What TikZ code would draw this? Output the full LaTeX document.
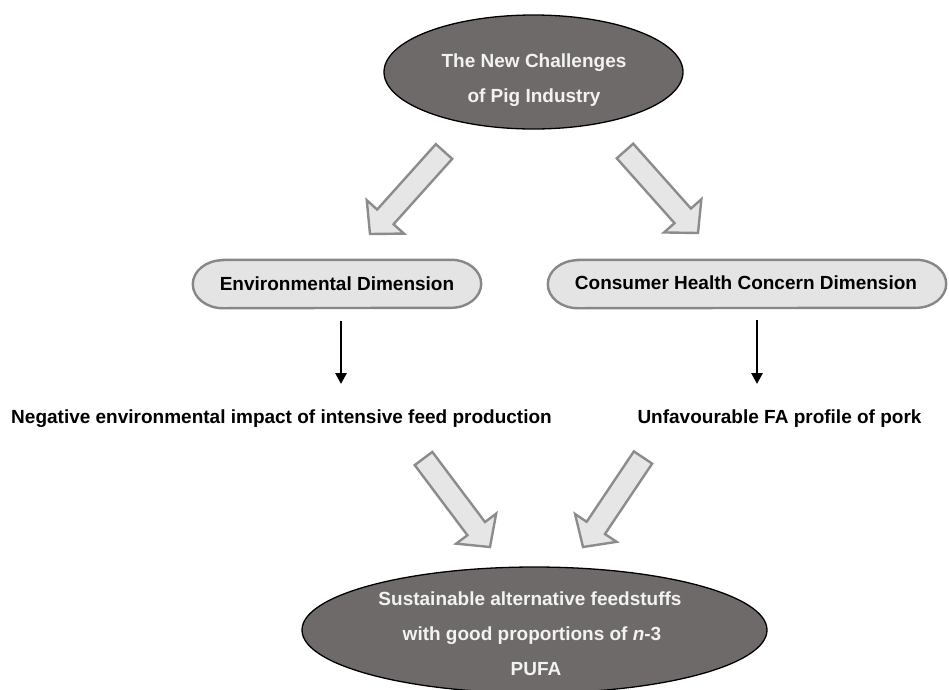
\documentclass[tikz,border=0pt]{standalone}
\usepackage{fontspec}
\setmainfont{Liberation Sans}
\usetikzlibrary{arrows.meta,shapes.geometric,calc}
\definecolor{darkfill}{HTML}{6E6A69}
\definecolor{lighttext}{HTML}{F2F2F2}
\definecolor{lightfill}{HTML}{E4E4E4}
\definecolor{lightedge}{HTML}{878787}
\definecolor{arrowfill}{HTML}{E6E6E6}
\definecolor{arrowedge}{HTML}{8C8C8C}
\newcommand{\myblockarrow}[2]{%
  \coordinate (#1h) at ($(#2)!23pt!(#1)$);
  \filldraw[fill=arrowfill,draw=arrowedge,line width=2.4pt,line join=miter]
    ($(#1)!11pt!90:(#2)$) -- ($(#1h)!11pt!90:(#2)$) -- ($(#1h)!25pt!90:(#2)$)
    -- (#2) -- ($(#1h)!25pt!-90:(#2)$) -- ($(#1h)!11pt!-90:(#2)$)
    -- ($(#1)!11pt!-90:(#2)$) -- cycle;}
\newcommand{\mylightshape}[1]{%
  \filldraw[fill=lightfill,draw=lightedge,line width=2.4pt]
    ([xshift=30pt]#1.north west) -- ([xshift=-30pt]#1.north east)
    arc[start angle=90, end angle=-90, x radius=30pt, y radius=24pt]
    -- ([xshift=30pt]#1.south west)
    arc[start angle=270, end angle=90, x radius=30pt, y radius=24pt] -- cycle;}
\tikzset{
  darkell/.style={ellipse, fill=darkfill, draw=black, line width=1.3pt, inner sep=0pt},
  lightbox/.style={rectangle, inner sep=0pt, minimum height=48pt},
  whitetxt/.style={text=lighttext, font=\fontsize{19}{23}\selectfont\bfseries, anchor=base, inner sep=0pt},
  blacktxt/.style={text=black, font=\fontsize{19}{23}\selectfont\bfseries, anchor=base, inner sep=0pt},
  thinarrow/.style={line width=2.8pt, -{Triangle[width=11pt,length=11pt]}},
}
\begin{document}
\begin{tikzpicture}[x=1pt,y=-1pt]
\useasboundingbox (0,0) rectangle (949,689);
% top ellipse
\node[darkell, minimum width=299pt, minimum height=114pt] (top) at (533.5,72) {};
\node[whitetxt] (top1) at (534,67) {The New Challenges};
\node[whitetxt] (top2) at (534,102) {of Pig Industry};
% block arrows from top
\coordinate (tlT) at (444,151.5); \coordinate (tlP) at (370,234);
\coordinate (trT) at (625,151);   \coordinate (trP) at (698,233);
\myblockarrow{tlT}{tlP}
\myblockarrow{trT}{trP}
% dimension boxes
\node[lightbox, minimum width=288pt] (env) at (337,284) {};
\mylightshape{env}
\node[blacktxt] (envt) at (337,290) {Environmental Dimension};
\node[lightbox, minimum width=398pt] (con) at (747,284) {};
\mylightshape{con}
\node[blacktxt] (cont) at (746,289.5) {Consumer Health Concern Dimension};
% thin arrows
\coordinate (a1s) at (341,321); \coordinate (a1e) at (341,384);
\coordinate (a2s) at (757,320); \coordinate (a2e) at (757,384);
\draw[thinarrow] (a1s) -- (a1e);
\draw[thinarrow] (a2s) -- (a2e);
% texts
\node[blacktxt] (neg) at (281.5,423) {Negative environmental impact of intensive feed production};
\node[blacktxt] (unf) at (779.5,423) {Unfavourable FA profile of pork};
% bottom block arrows
\coordinate (blT) at (423.5,458.5); \coordinate (blP) at (490,547);
\coordinate (brT) at (643,457.5);   \coordinate (brP) at (583,547);
\myblockarrow{blT}{blP}
\myblockarrow{brT}{brP}
% bottom ellipse
\node[darkell, minimum width=465pt, minimum height=126pt] (bot) at (534.5,630) {};
\node[whitetxt] (bot1) at (530,605) {Sustainable alternative feedstuffs};
\node[whitetxt] (bot2) at (532,640) {with good proportions of \textit{n}-3};
\node[whitetxt] (bot3) at (536,675) {PUFA};
\end{tikzpicture}
\end{document}
